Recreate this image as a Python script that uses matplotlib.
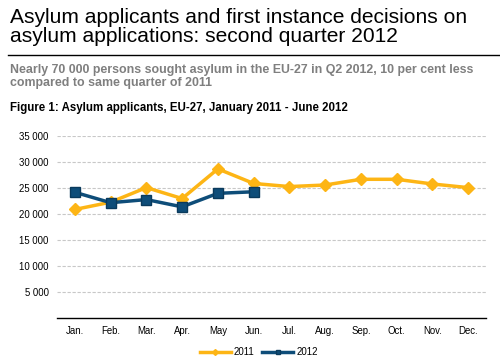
import matplotlib.pyplot as plt
from matplotlib.lines import Line2D

## data
months = ['Jan.', 'Feb.', 'Mar.', 'Apr.', 'May', 'Jun.', 'Jul.', 'Aug.', 'Sep.', 'Oct.', 'Nov.', 'Dec.']
apps_2011 = [20900, 22300, 25100, 23000, 28700, 25900, 25300, 25600, 26700, 26700, 25800, 25100]
apps_2012 = [24200, 22200, 22800, 21400, 24000, 24300]
yticks = [5000, 10000, 15000, 20000, 25000, 30000, 35000]

orange = '#FDB515'
navy = '#0E4D79'

plt.rcParams['font.family'] = ['Liberation Sans', 'DejaVu Sans']

fig = plt.figure(figsize=(5, 3.64), dpi=100)

# header texts
fig.text(0.02, 0.978, 'Asylum applicants and first instance decisions on\nasylum applications: second quarter 2012',
         fontsize=15.1, va='top', ha='left', linespacing=0.98, color='black')
fig.add_artist(Line2D([0.016, 1.0], [0.849, 0.849], color='black', lw=1))
fig.text(0.02, 0.825, 'Nearly 70 000 persons sought asylum in the EU-27 in Q2 2012, 10 per cent less\ncompared to same quarter of 2011',
         fontsize=8.9, fontweight='bold', color='#7f7f7f', va='top', ha='left', linespacing=1.12)
fig.text(0.02, 0.72, 'Figure 1: Asylum applicants, EU-27, January 2011 - June 2012',
         fontsize=8.3, fontweight='bold', color='black', va='top', ha='left')

ax = fig.add_axes([0.114, 0.126, 0.858, 0.5])
x11 = range(len(apps_2011))
x12 = range(len(apps_2012))
ax.plot(x11, apps_2011, color=orange, lw=2.5, marker='D', ms=6, mec=orange, label='2011', clip_on=False, zorder=3)
ax.plot(x12, apps_2012, color=navy, lw=2.5, marker='s', ms=7, mec='#0a3a5c', label='2012', clip_on=False, zorder=4)

ax.set_xlim(-0.5, len(months) - 0.5)
ax.set_ylim(0, 35000)
ax.set_xticks(range(len(months)))
ax.set_xticklabels(months)
ax.set_yticks(yticks)
ax.set_yticklabels([f'{v:,}'.replace(',', ' ') for v in yticks])
ax.tick_params(axis='both', length=0, labelsize=6.9, colors='black')
ax.tick_params(axis='y', pad=6)
ax.tick_params(axis='x', pad=6)
ax.grid(axis='y', color='#c8c8c8', ls=(0, (3, 1.5)), lw=0.8)
ax.set_axisbelow(True)
for s in ['top', 'right', 'left']:
    ax.spines[s].set_visible(False)
ax.spines['bottom'].set_linewidth(1)

ax.legend(loc='upper center', bbox_to_anchor=(0.47, -0.11), ncol=2, frameon=False,
          fontsize=7, handlelength=3.2, handletextpad=0.3, columnspacing=0.8, markerscale=0.5)

fig.savefig('out.png', dpi=100)
